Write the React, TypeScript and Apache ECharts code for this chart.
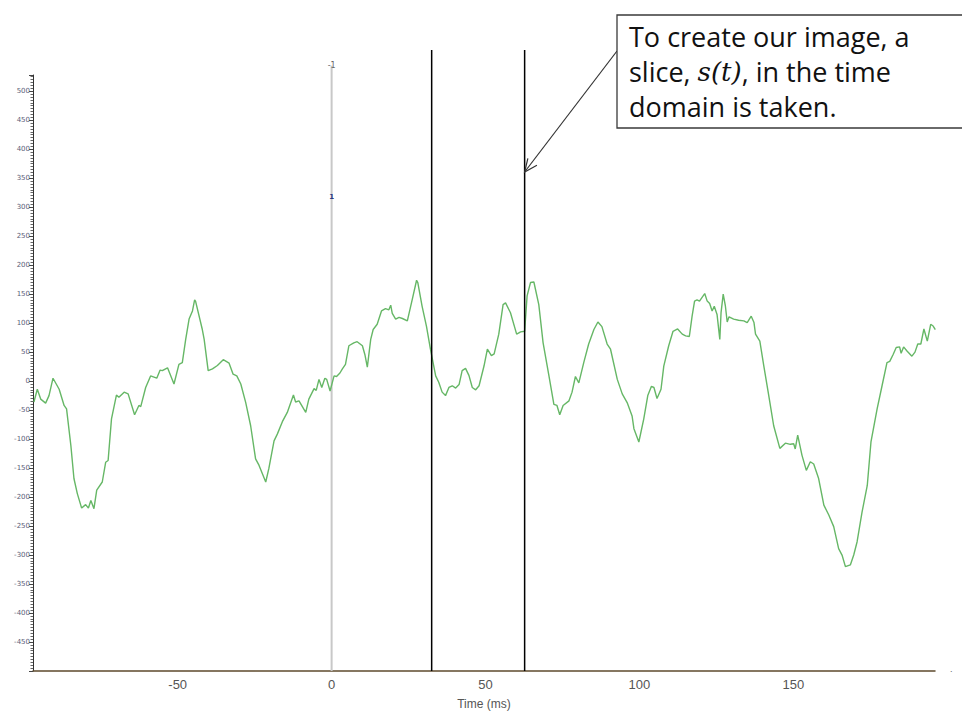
import React, { useEffect, useRef } from 'react';
import * as echarts from 'echarts';

// Time axis (ms) and signal amplitude
const timeMs = [
  -96.7, -95.6, -94.5, -92.9, -91.8, -90.5, -88.5, -86.9, -86.1, -84.7, -83.7, -82.6, -81.2, -79.9, -79.0, -78.2,
  -77.2, -76.3, -74.5, -73.4, -72.6, -71.5, -69.9, -69.1, -67.4, -66.1, -64.0, -62.6, -62.0, -60.4, -58.8, -56.8,
  -55.7, -55.0, -53.3, -51.2, -49.6, -48.5, -47.4, -46.3, -45.2, -44.5, -44.2, -42.0, -41.4, -40.1, -38.7, -37.1,
  -35.2, -33.3, -32.0, -30.8, -29.5, -27.9, -26.3, -24.7, -23.6, -21.4, -20.4, -18.7, -17.6, -16.0, -14.4, -12.4,
  -11.7, -10.6, -8.4, -7.4, -5.7, -5.0, -4.1, -3.2, -2.2, -1.6, -0.5, 0.8, 1.6, 2.7, 3.5, 4.5,
  5.6, 7.2, 8.3, 10.0, 10.8, 11.6, 12.7, 13.5, 14.8, 16.2, 17.5, 18.6, 19.2, 19.7, 20.8, 21.9,
  23.0, 24.6, 26.2, 27.6, 28.0, 29.4, 30.8, 32.1, 33.8, 34.8, 35.9, 37.0, 38.1, 39.2, 40.3, 41.4,
  42.4, 43.5, 44.6, 45.7, 46.8, 47.9, 49.5, 50.6, 51.9, 52.8, 54.3, 55.7, 56.5, 58.1, 60.1, 61.4,
  62.7, 63.5, 64.6, 65.7, 67.3, 68.7, 70.5, 72.2, 73.2, 74.1, 75.2, 77.1, 78.1, 79.2, 80.3, 81.9,
  83.5, 85.2, 86.5, 87.8, 89.5, 90.6, 92.8, 94.4, 96.0, 97.6, 98.2, 99.8, 101.4, 102.7, 103.9, 104.7,
  105.7, 107.0, 107.9, 109.5, 110.9, 112.4, 113.9, 115.0, 116.2, 117.1, 117.9, 118.7, 119.5, 120.4, 121.2, 122.0,
  122.8, 123.6, 124.3, 125.2, 126.1, 126.5, 127.2, 127.9, 128.5, 129.1, 130.6, 132.2, 133.9, 135.0, 136.3, 137.2,
  137.7, 139.1, 140.4, 142.0, 143.6, 145.6, 147.4, 149.0, 150.1, 150.6, 151.4, 152.8, 154.2, 155.5, 156.6, 158.2,
  159.9, 161.5, 163.1, 164.7, 165.8, 166.9, 168.5, 169.6, 170.7, 172.3, 174.0, 175.2, 177.2, 178.8, 180.4, 181.3,
  182.4, 183.4, 184.5, 185.0, 185.8, 186.9, 188.5, 189.5, 190.4, 191.4, 192.4, 193.5, 194.6, 195.4, 196.1,
];
const amplitude = [
  -36, -14, -31, -38, -25, 5, -14, -42, -48, -111, -168, -194, -219, -213, -219, -206,
  -220, -188, -174, -140, -137, -65, -24, -28, -19, -22, -58, -42, -44, -11, 9, 5,
  19, 18, 23, -5, 29, 32, 72, 107, 121, 140, 138, 89, 72, 18, 21, 27,
  37, 31, 12, 9, -5, -37, -77, -134, -145, -174, -151, -103, -91, -70, -54, -24,
  -36, -34, -54, -31, -13, -16, 3, -11, 5, 3, -17, 9, 8, 14, 21, 29,
  61, 66, 68, 61, 46, 24, 72, 89, 98, 121, 125, 123, 131, 117, 107, 110,
  108, 104, 141, 174, 170, 129, 95, 55, 9, -2, -19, -25, -11, -8, -12, -6,
  18, 22, 10, -11, -15, -8, 26, 55, 44, 47, 81, 132, 135, 118, 81, 85,
  86, 147, 170, 171, 132, 66, 12, -40, -42, -58, -42, -34, -19, 8, -3, 32,
  64, 89, 102, 94, 64, 55, 3, -22, -37, -60, -82, -105, -65, -25, -9, -11,
  -30, -14, 26, 61, 86, 90, 81, 78, 77, 112, 138, 140, 138, 145, 151, 138,
  134, 121, 129, 115, 72, 118, 150, 130, 102, 111, 107, 105, 104, 101, 112, 101,
  81, 69, 26, -25, -77, -116, -107, -109, -108, -117, -93, -128, -154, -139, -143, -168,
  -214, -231, -251, -289, -300, -320, -317, -300, -277, -226, -180, -105, -48, -8, 32, 34,
  46, 58, 59, 48, 59, 52, 43, 50, 64, 64, 90, 69, 98, 95, 89,
];

const xTickLabels = [-50, 0, 50, 100, 150];
const xExtent = [-97, 196];
const yExtent = [-500, 528];
const yInterval = 50;
const cursorTime = 0;
const sliceTimes = [32.5, 62.7];
const cursorLabels = ['-1', '1'];
const cursorLabelValues = [544, 318];
const annotationText = ['To create our image, a', 'slice, ', 's(t)', ', in the time', 'domain is taken.'];

export default function App() {
  const ref = useRef<HTMLDivElement>(null);

  useEffect(() => {
    if (!ref.current) return;
    const chart = echarts.init(ref.current, undefined, { renderer: 'svg' });
    const data = timeMs.map((t, i) => [t, amplitude[i]]);

    chart.setOption({
      animation: false,
      backgroundColor: '#ffffff',
      grid: { left: 33, right: 27, top: 75, bottom: 43, containLabel: false },
      xAxis: {
        type: 'value',
        min: xExtent[0],
        max: xExtent[1],
        splitNumber: 6,
        name: 'Time (ms)',
        nameLocation: 'middle',
        nameGap: 27,
        nameTextStyle: { fontSize: 12, color: '#555555', fontFamily: 'Liberation Sans Narrow, Liberation Sans, sans-serif' },
        axisLine: { show: true, onZero: false, lineStyle: { color: '#5e4a2c', width: 1.5 } },
        axisTick: { show: false },
        splitLine: { show: false },
        axisLabel: {
          fontSize: 13,
          color: '#555555',
          margin: 7,
          fontFamily: 'Liberation Sans Narrow, Liberation Sans, sans-serif',
          formatter: (v: number) => (xTickLabels.includes(v) ? String(v) : ''),
        },
      },
      yAxis: {
        type: 'value',
        min: yExtent[0],
        max: yExtent[1],
        interval: yInterval,
        axisLine: { show: true, onZero: false, lineStyle: { color: '#333333', width: 1 } },
        axisTick: { show: true, length: 4, lineStyle: { color: '#444444' } },
        minorTick: { show: true, splitNumber: 10, length: 2.5, lineStyle: { color: '#666666' } },
        splitLine: { show: false },
        axisLabel: {
          fontSize: 7,
          color: '#5a6078',
          margin: 3,
          fontFamily: 'DejaVu Sans, sans-serif',
          formatter: (v: number) => (v % yInterval === 0 && v !== yExtent[0] && v <= 500 ? String(v) : ''),
        },
      },
      series: [
        {
          type: 'line',
          data,
          showSymbol: false,
          lineStyle: { color: '#66b766', width: 1.4 },
          z: 3,
        },
      ],
    });

    const xPix = (t: number) => chart.convertToPixel({ xAxisIndex: 0 }, t) as number;
    const yPix = (v: number) => chart.convertToPixel({ yAxisIndex: 0 }, v) as number;
    const yBottom = yPix(yExtent[0]);
    const cx = xPix(cursorTime);

    const graphic: any[] = [];
    graphic.push({
      type: 'line',
      shape: { x1: cx, y1: yPix(cursorLabelValues[0]), x2: cx, y2: yBottom },
      style: { stroke: '#c8c8c8', lineWidth: 2 },
      z: 2,
    });
    graphic.push({
      type: 'text',
      x: cx,
      y: yPix(cursorLabelValues[0]),
      style: { text: cursorLabels[0], fontSize: 8, fill: '#666666', align: 'center', verticalAlign: 'middle', fontFamily: 'DejaVu Sans' },
      z: 4,
    });
    graphic.push({
      type: 'text',
      x: cx,
      y: yPix(cursorLabelValues[1]),
      style: { text: cursorLabels[1], fontSize: 7, fontWeight: 'bold', fill: '#2a3a80', align: 'center', verticalAlign: 'middle', fontFamily: 'DejaVu Sans' },
      z: 4,
    });
    sliceTimes.forEach((t) => {
      const x = xPix(t);
      graphic.push({
        type: 'line',
        shape: { x1: x, y1: 50, x2: x, y2: yBottom },
        style: { stroke: '#000000', lineWidth: 1.5 },
        z: 4,
      });
    });

    // annotation arrow
    const tipX = xPix(sliceTimes[1]);
    const tipY = 172;
    const sx = 617;
    const sy = 51;
    const len = Math.hypot(tipX - sx, tipY - sy);
    const ux = (tipX - sx) / len;
    const uy = (tipY - sy) / len;
    const head = 14;
    const ang = (24 * Math.PI) / 180;
    const rot = (a: number) => [
      tipX - head * (ux * Math.cos(a) - uy * Math.sin(a)),
      tipY - head * (ux * Math.sin(a) + uy * Math.cos(a)),
    ];
    graphic.push({
      type: 'line',
      shape: { x1: sx, y1: sy, x2: tipX, y2: tipY },
      style: { stroke: '#333333', lineWidth: 1.2 },
      z: 5,
    });
    graphic.push({
      type: 'polyline',
      shape: { points: [rot(ang), [tipX, tipY], rot(-ang)] },
      style: { stroke: '#333333', lineWidth: 1.2, fill: null },
      z: 5,
    });

    // annotation box
    graphic.push({
      type: 'rect',
      shape: { x: 617, y: 15, width: 360, height: 113 },
      style: { fill: '#ffffff', stroke: '#3a3a3a', lineWidth: 1.3 },
      z: 6,
    });
    graphic.push({
      type: 'text',
      x: 629,
      y: 19,
      style: {
        text: `${annotationText[0]}\n${annotationText[1]}{m|${annotationText[2]}}${annotationText[3]}\n${annotationText[4]}`,
        fontSize: 27,
        lineHeight: 35,
        fill: '#111111',
        fontFamily: 'Open Sans, sans-serif',
        rich: {
          m: { fontSize: 26, fontStyle: 'italic', fontFamily: 'DejaVu Serif, serif', fill: '#111111', lineHeight: 35 },
        },
      },
      z: 7,
    });
    graphic.push({
      type: 'text',
      x: 950,
      y: 664,
      style: { text: '.', fontSize: 9, fill: '#666666' },
      z: 4,
    });

    chart.setOption({ graphic });

    return () => chart.dispose();
  }, []);

  return <div ref={ref} style={{ position: 'absolute', left: 0, top: 0, width: 962, height: 715 }} />;
}
